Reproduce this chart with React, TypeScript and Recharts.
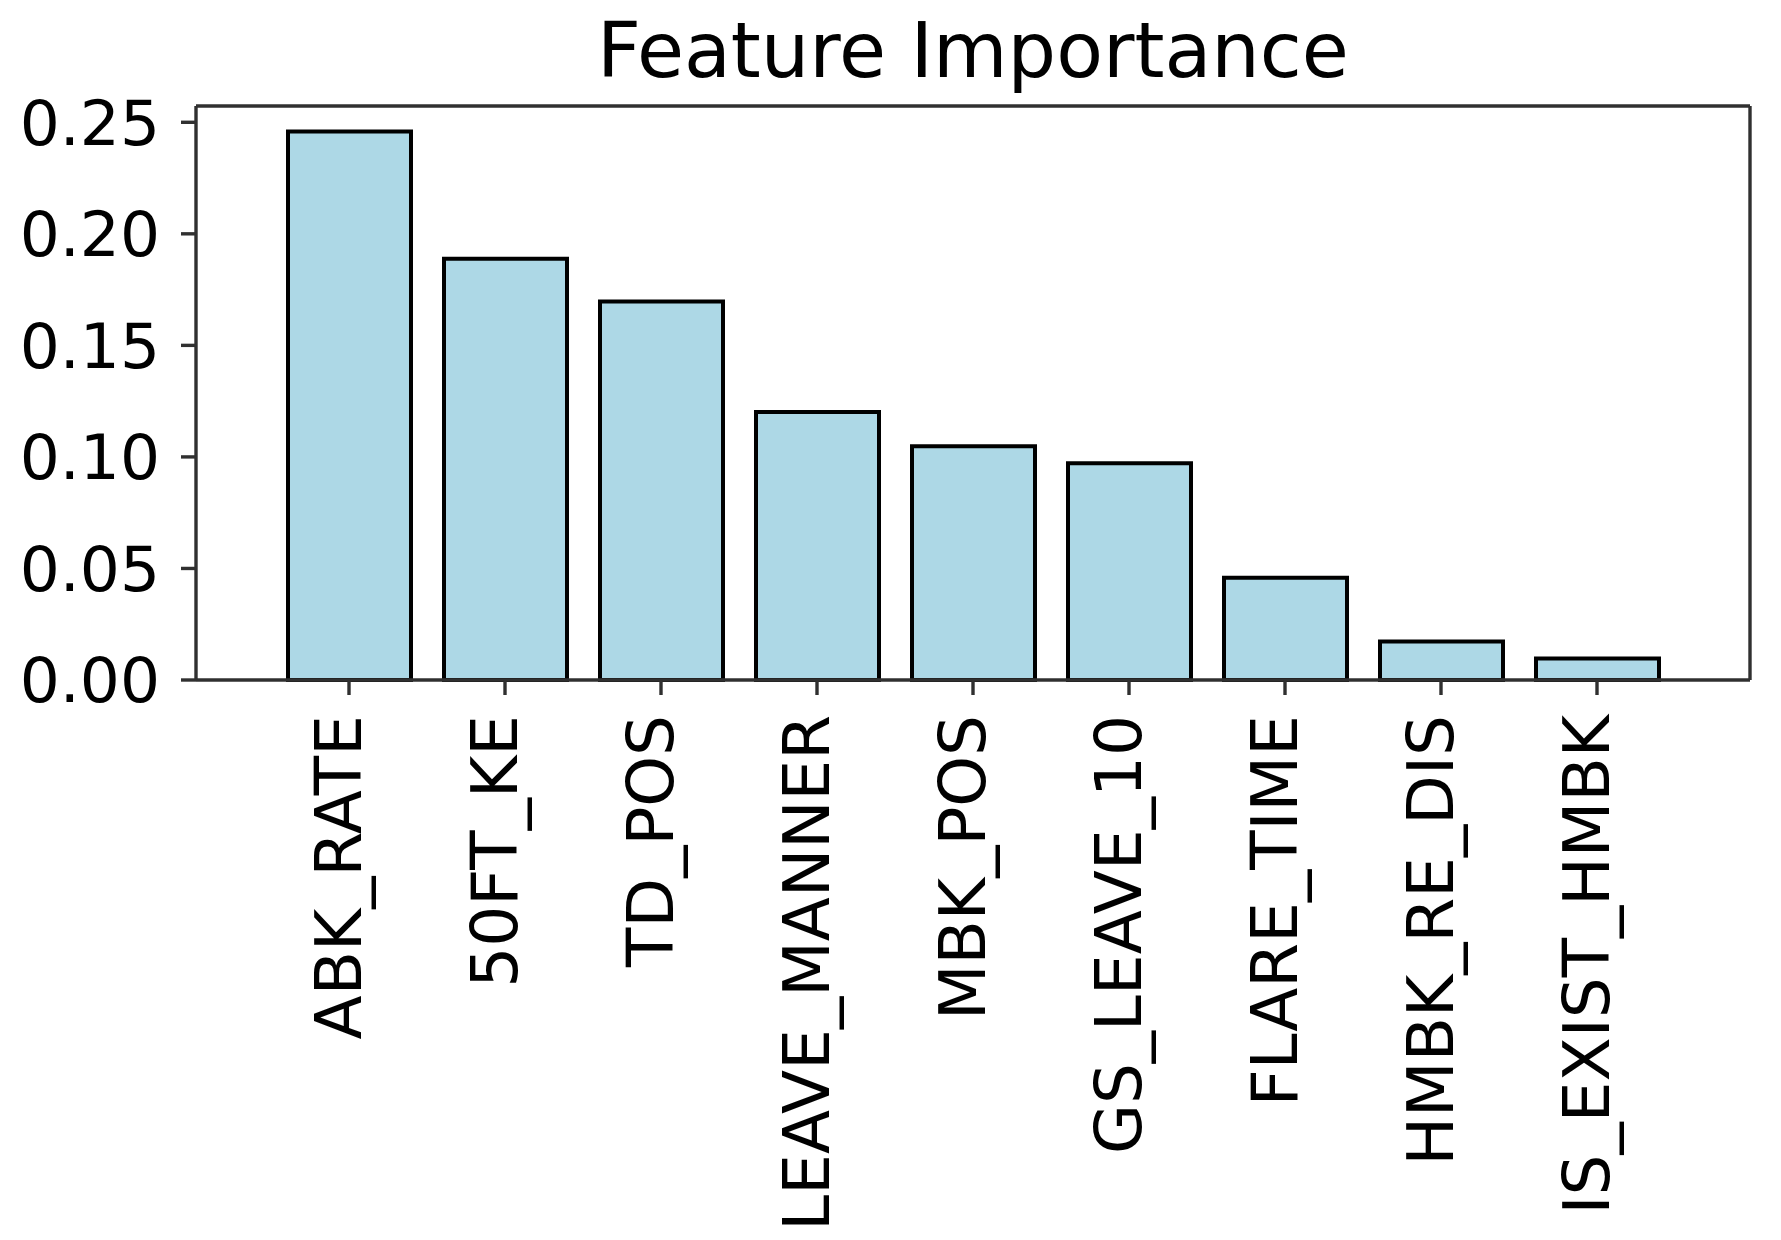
import { Bar, BarChart, XAxis, YAxis } from "recharts";

const FEATURES = [
  "ABK_RATE",
  "50FT_KE",
  "TD_POS",
  "LEAVE_MANNER",
  "MBK_POS",
  "GS_LEAVE_10",
  "FLARE_TIME",
  "HMBK_RE_DIS",
  "IS_EXIST_HMBK",
];
const IMPORTANCE = [0.2459, 0.1888, 0.1697, 0.1201, 0.1048, 0.0972, 0.0458, 0.0173, 0.0096];
const Y_TICKS = [0, 0.05, 0.1, 0.15, 0.2, 0.25];

const W = 1781;
const H = 1240;
const FONT = "DejaVu Sans";
const SPINE = "#303030";
const FILL = "#add8e6";

const data = FEATURES.map((name, i) => ({ name, value: IMPORTANCE[i] }));

function RotTick({ x, y, payload }: { x?: number; y?: number; payload?: { value: string } }) {
  const bx = (x ?? 0) + 12;
  const by = y ?? 0;
  return (
    <text
      x={bx}
      y={by}
      transform={`rotate(-90, ${bx}, ${by})`}
      textAnchor="end"
      fontSize={64.5}
      fontFamily={FONT}
      fill="#000"
    >
      {payload?.value}
    </text>
  );
}

export default function App() {
  return (
    <div style={{ position: "absolute", left: 0, top: 0, width: W, height: H, background: "#fff" }}>
      <BarChart
        width={W}
        height={H}
        data={data}
        margin={{ top: 105, right: 30, bottom: 0, left: 0 }}
      >
        <XAxis
          dataKey="name"
          interval={0}
          height={560}
          padding={{ left: 75, right: 75 }}
          tickSize={15}
          tickMargin={20}
          tickLine={{ stroke: SPINE, strokeWidth: 3.4 }}
          axisLine={{ stroke: SPINE, strokeWidth: 3.4 }}
          tick={<RotTick />}
        />
        <XAxis
          xAxisId="top"
          dataKey="name"
          orientation="top"
          height={1}
          tick={false}
          tickLine={false}
          axisLine={{ stroke: SPINE, strokeWidth: 3.4 }}
        />
        <YAxis
          type="number"
          domain={[0, 0.2573]}
          ticks={Y_TICKS}
          width={196}
          tickSize={15}
          tickMargin={21}
          tickFormatter={(v: number) => v.toFixed(2)}
          tick={{ fontSize: 63, fontFamily: FONT, fill: "#000" }}
          tickLine={{ stroke: SPINE, strokeWidth: 3.4 }}
          axisLine={{ stroke: SPINE, strokeWidth: 3.4 }}
        />
        <YAxis
          yAxisId="right"
          orientation="right"
          type="number"
          domain={[0, 0.2573]}
          width={1}
          tick={false}
          tickLine={false}
          axisLine={{ stroke: SPINE, strokeWidth: 3.4 }}
        />
        <Bar
          dataKey="value"
          fill={FILL}
          stroke="#000"
          strokeWidth={4}
          barSize={123}
          isAnimationActive={false}
        />
      </BarChart>
      <svg
        width={W}
        height={110}
        style={{ position: "absolute", left: 0, top: 0, pointerEvents: "none" }}
      >
        <text x={973} y={77} textAnchor="middle" fontSize={76.5} fontFamily={FONT} fill="#000">
          Feature Importance
        </text>
      </svg>
    </div>
  );
}
